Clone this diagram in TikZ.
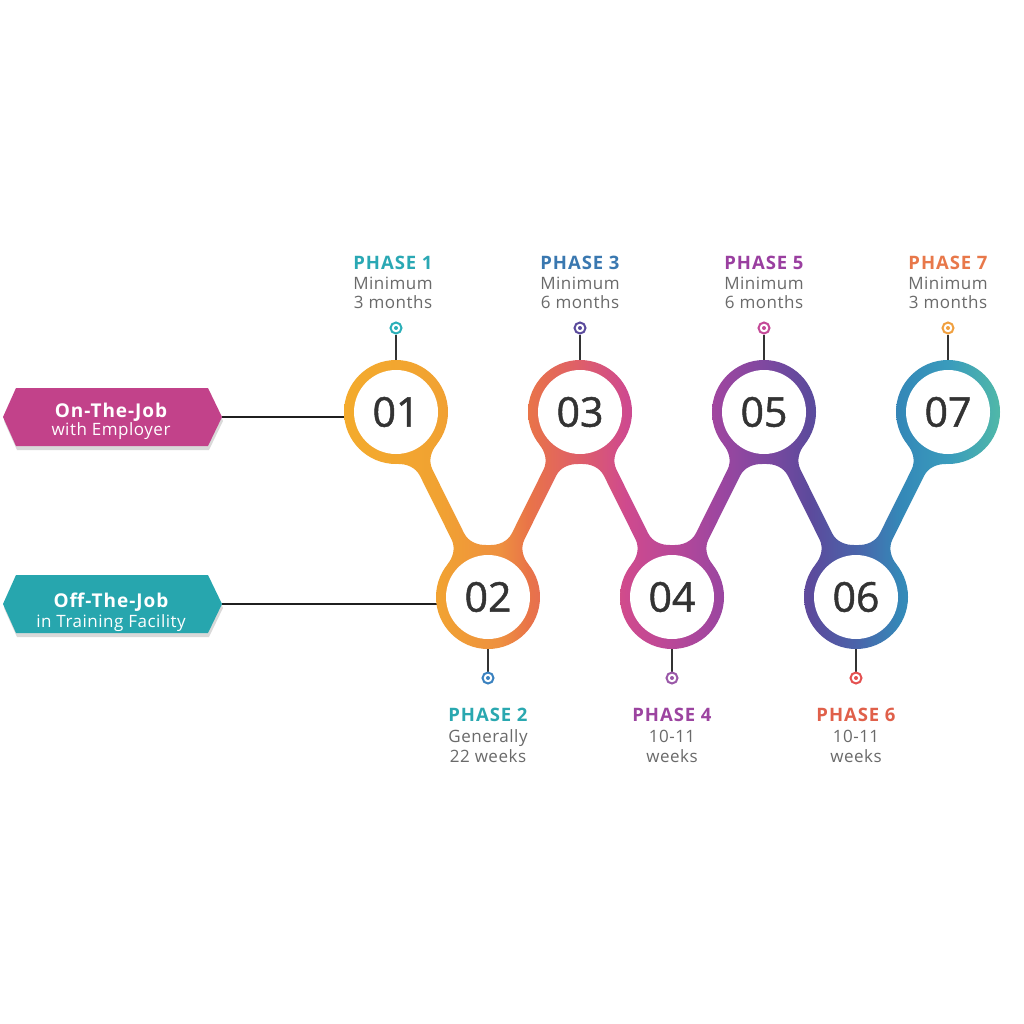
\documentclass[tikz,border=0pt]{standalone}
\usepackage{fontspec}
\setmainfont{Open Sans}
\newfontfamily\subfont{Open Sans}[LetterSpace=3]
\newfontfamily\ttlfont{Open Sans}[LetterSpace=5]
\newfontfamily\numfont{Open Sans}[FakeBold=1.2]
\usetikzlibrary{calc}
\pgfdeclarelayer{bg}
\pgfsetlayers{bg,main}
\definecolor{s0}{HTML}{F4AC2C}
\definecolor{s1}{HTML}{F1A232}
\definecolor{s2}{HTML}{EE9040}
\definecolor{s3}{HTML}{E97448}
\definecolor{s4}{HTML}{DE5E6A}
\definecolor{s5}{HTML}{CF4A8E}
\definecolor{s6}{HTML}{B84898}
\definecolor{s7}{HTML}{9C46A0}
\definecolor{s8}{HTML}{7E48A0}
\definecolor{s9}{HTML}{5C4A9C}
\definecolor{s10}{HTML}{4A64AA}
\definecolor{s11}{HTML}{3488B8}
\definecolor{s12}{HTML}{3A9CBC}
\definecolor{s13}{HTML}{50B8A8}
\definecolor{hexmag}{HTML}{C2428A}
\definecolor{hexteal}{HTML}{27A6AE}
\definecolor{txtgray}{HTML}{6A6A6A}
\definecolor{numgray}{HTML}{333333}
\definecolor{t1}{HTML}{2AA8B4}
\definecolor{t2}{HTML}{2AA8B0}
\definecolor{t3}{HTML}{3A78B0}
\definecolor{t4}{HTML}{9C44A0}
\definecolor{t5}{HTML}{9A3FA0}
\definecolor{t6}{HTML}{E0604A}
\definecolor{t7}{HTML}{E8784A}
\definecolor{pc1}{HTML}{2AAFB8}
\definecolor{pc2}{HTML}{3A82C0}
\definecolor{pc3}{HTML}{5A4A9C}
\definecolor{pc4}{HTML}{9A58A8}
\definecolor{pc5}{HTML}{C44A98}
\definecolor{pc6}{HTML}{E45050}
\definecolor{pc7}{HTML}{F0A040}
\pgfdeclarehorizontalshading{wave}{100bp}{color(0bp)=(s0); color(25bp)=(s0); color(33.09bp)=(s1); color(37.5bp)=(s2); color(39.56bp)=(s3); color(43.38bp)=(s4); color(46.76bp)=(s5); color(50.15bp)=(s6); color(53.68bp)=(s7); color(56.99bp)=(s8); color(60.29bp)=(s9); color(63.68bp)=(s10); color(66.91bp)=(s11); color(70.59bp)=(s12); color(74.26bp)=(s13); color(100bp)=(s13)}
\newcommand\shadepiece[1]{\begin{scope}\clip #1; \shade[shading=wave] (330,300) rectangle (1010,700);\end{scope}}
\def\barshape{(47.1,-22) .. controls (50.9,-13.8) and (58,-7) .. (68,-7) -- (138.6,-7) .. controls (148.6,-7) and (155.7,-13.8) .. (159.5,-22) -- (159.5,22) .. controls (155.7,13.8) and (148.6,7) .. (138.6,7) -- (68,7) .. controls (58,7) and (50.9,13.8) .. (47.1,22) -- cycle}
\tikzset{
  num/.style={circle, fill=white, minimum size=84pt, inner sep=0pt, font=\numfont\fontsize{41}{41}\selectfont, text=numgray},
  pinring/.style={circle, draw=#1, line width=2pt, fill=white, minimum size=11pt, inner sep=0pt},
  stem/.style={draw=black!80, line width=1.5pt},
  link/.style={draw=black!88, line width=2.5pt},
  hexanchor/.style={rectangle, minimum width=219pt, minimum height=58pt, inner sep=0pt},
  ttl/.style={font=\ttlfont\fontsize{18.5}{20}\selectfont\bfseries, anchor=base, text=#1, inner sep=0pt},
  sub/.style={font=\subfont\fontsize{17}{20}\selectfont, anchor=base, text=txtgray, inner sep=0pt},
  hexttl/.style={font=\ttlfont\fontsize{19}{20}\selectfont\bfseries, anchor=base, text=white, inner sep=0pt},
  hexsub/.style={font=\subfont\fontsize{17}{20}\selectfont, anchor=base, text=white, inner sep=0pt}
}
\begin{document}
\begin{tikzpicture}[x=1pt,y=-1pt]
\useasboundingbox (0,0) rectangle (1024,1024);
% circles
\node[num] (c1) at (396,412) {01};
\node[num] (c2) at (488,597) {02};
\node[num] (c3) at (580,412) {03};
\node[num] (c4) at (672,597) {04};
\node[num] (c5) at (764,412) {05};
\node[num] (c6) at (856,597) {06};
\node[num] (c7) at (948,412) {07};
% hex anchors
\node[hexanchor] (h1) at (112.5,417) {};
\node[hexanchor] (h2) at (112.5,604) {};
\node[hexttl] (h1a) at (111,417) {On-The-Job};
\node[hexsub] (h1b) at (111,435) {with Employer};
\node[hexttl] (h2a) at (111,607) {Off-The-Job};
\node[hexsub] (h2b) at (111,627) {in Training Facility};
% pins
\node[pinring=pc1] (p1) at (396,328) {};
\node[pinring=pc3] (p3) at (580,328) {};
\node[pinring=pc5] (p5) at (764,328) {};
\node[pinring=pc7] (p7) at (948,328) {};
\node[pinring=pc2] (p2) at (488,678) {};
\node[pinring=pc4] (p4) at (672,678) {};
\node[pinring=pc6] (p6) at (856,678) {};
\foreach \i in {1,...,7} {\fill[pc\i] (p\i) circle (2);}
% labels
\node[ttl=t1] (l1a) at (393,269) {PHASE 1};
\node[sub] (l1b) at (393,289) {Minimum};
\node[sub] (l1c) at (393,308) {3 months};
\node[ttl=t3] (l3a) at (580,269) {PHASE 3};
\node[sub] (l3b) at (580,289) {Minimum};
\node[sub] (l3c) at (580,308) {6 months};
\node[ttl=t5] (l5a) at (764,269) {PHASE 5};
\node[sub] (l5b) at (764,289) {Minimum};
\node[sub] (l5c) at (764,308) {6 months};
\node[ttl=t7] (l7a) at (948,269) {PHASE 7};
\node[sub] (l7b) at (948,289) {Minimum};
\node[sub] (l7c) at (948,308) {3 months};
\node[ttl=t2] (l2a) at (488,721) {PHASE 2};
\node[sub] (l2b) at (488,742) {Generally};
\node[sub] (l2c) at (488,762) {22 weeks};
\node[ttl=t4] (l4a) at (672,721) {PHASE 4};
\node[sub] (l4b) at (672,742) {10-11};
\node[sub] (l4c) at (672,762) {weeks};
\node[ttl=t6] (l6a) at (856,721) {PHASE 6};
\node[sub] (l6b) at (856,742) {10-11};
\node[sub] (l6c) at (856,762) {weeks};
\begin{pgfonlayer}{bg}
\fill[white] (0,0) rectangle (1024,1024);
% hexagons with shadows
\fill[black,opacity=.15] (4,421) -- (17,392) -- (209,392) -- (223,421) -- (209,450) -- (17,450) -- cycle;
\fill[hexmag] (3,417) -- (16,388) -- (208,388) -- (222,417) -- (208,446) -- (16,446) -- cycle;
\fill[black,opacity=.15] (4,608) -- (17,579) -- (209,579) -- (223,608) -- (209,637) -- (17,637) -- cycle;
\fill[hexteal] (3,604) -- (16,575) -- (208,575) -- (222,604) -- (208,633) -- (16,633) -- cycle;
% connectors
\draw[link] (h1.east) -- (h1.east -| c1.center);
\draw[link] (h2.east) -- (h2.east -| c2.center);
\foreach \i in {1,...,7} {\draw[stem] (p\i) -- (c\i);}
% gradient rings and bars
\foreach \i in {1,...,7} {\shadepiece{(c\i) circle (52)}}
\shadepiece{[shift={(c1)},rotate=-63.56] \barshape}
\shadepiece{[shift={(c2)},rotate=63.56] \barshape}
\shadepiece{[shift={(c3)},rotate=-63.56] \barshape}
\shadepiece{[shift={(c4)},rotate=63.56] \barshape}
\shadepiece{[shift={(c5)},rotate=-63.56] \barshape}
\shadepiece{[shift={(c6)},rotate=63.56] \barshape}
\end{pgfonlayer}
\end{tikzpicture}
\end{document}
